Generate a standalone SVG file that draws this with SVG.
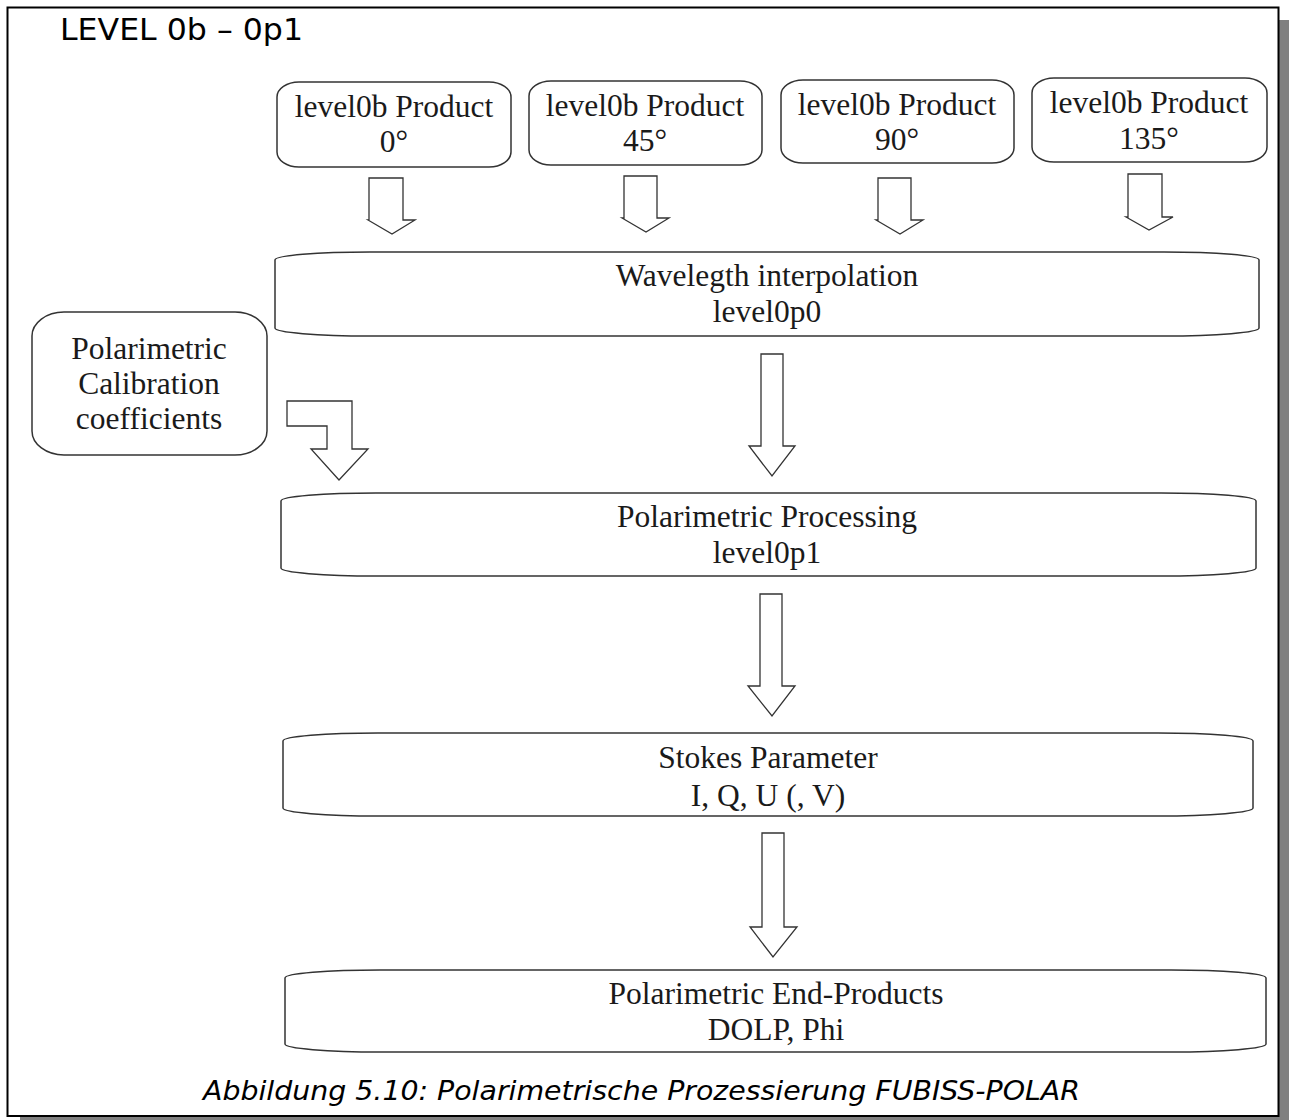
<svg xmlns="http://www.w3.org/2000/svg" width="1289" height="1120" viewBox="0 0 1289 1120">
  <style>
    .box { fill: #ffffff; stroke: #333333; stroke-width: 1.5; }
    .arrow { fill: #ffffff; stroke: #333333; stroke-width: 1.3; stroke-linejoin: miter; }
    .label { font-family: "Liberation Serif", "Times New Roman", serif; font-size: 31.5px; fill: #1a1a1a; text-anchor: middle; }
    .title { font-family: "DejaVu Sans", sans-serif; font-size: 30px; fill: #000000; }
    .caption { font-family: "DejaVu Sans", "Liberation Sans", sans-serif; font-size: 27px; font-style: italic; fill: #000000; }
  </style>

  <!-- page background, drop shadow and frame -->
  <rect x="0" y="0" width="1289" height="1120" fill="#ffffff"/>
  <rect x="1279" y="20" width="10" height="1100" fill="#808080"/>
  <rect x="20" y="1117" width="1269" height="3" fill="#808080"/>
  <rect x="7.5" y="7.5" width="1271" height="1108.5" fill="#ffffff" stroke="#000000" stroke-width="2"/>

  <text class="title" x="60" y="40" textLength="243" lengthAdjust="spacingAndGlyphs">LEVEL 0b – 0p1</text>

  <!-- input products -->
  <g id="product-0">
    <rect class="box" x="277" y="82" width="234" height="85" rx="22" ry="15"/>
    <text class="label" x="394" y="117">level0b Product</text>
    <text class="label" x="394" y="152">0°</text>
  </g>
  <g id="product-45">
    <rect class="box" x="529" y="81" width="233" height="84" rx="22" ry="15"/>
    <text class="label" x="645" y="116">level0b Product</text>
    <text class="label" x="645" y="151">45°</text>
  </g>
  <g id="product-90">
    <rect class="box" x="781" y="80" width="233" height="83" rx="22" ry="15"/>
    <text class="label" x="897" y="115">level0b Product</text>
    <text class="label" x="897" y="150">90°</text>
  </g>
  <g id="product-135">
    <rect class="box" x="1032" y="78" width="235" height="84" rx="22" ry="15"/>
    <text class="label" x="1149" y="113">level0b Product</text>
    <text class="label" x="1149" y="149">135°</text>
  </g>

  <!-- processing stages -->
  <g id="wavelength-interpolation">
    <rect class="box" x="275" y="252" width="984" height="84" rx="95" ry="8"/>
    <text class="label" x="767" y="286">Wavelegth interpolation</text>
    <text class="label" x="767" y="322">level0p0</text>
  </g>
  <g id="calibration-coefficients">
    <rect class="box" x="32" y="312" width="235" height="143" rx="32" ry="24"/>
    <text class="label" x="149" y="359">Polarimetric</text>
    <text class="label" x="149" y="394">Calibration</text>
    <text class="label" x="149" y="429">coefficients</text>
  </g>
  <g id="polarimetric-processing">
    <rect class="box" x="281" y="493" width="975" height="83" rx="95" ry="8"/>
    <text class="label" x="767" y="527">Polarimetric Processing</text>
    <text class="label" x="767" y="563">level0p1</text>
  </g>
  <g id="stokes-parameter">
    <rect class="box" x="283" y="733" width="970" height="83" rx="95" ry="8"/>
    <text class="label" x="768" y="768">Stokes Parameter</text>
    <text class="label" x="768" y="806">I, Q, U (, V)</text>
  </g>
  <g id="end-products">
    <rect class="box" x="285" y="970" width="981" height="82" rx="95" ry="8"/>
    <text class="label" x="776" y="1004">Polarimetric End-Products</text>
    <text class="label" x="776" y="1040">DOLP, Phi</text>
  </g>

  <!-- block arrows between stages -->
  <g id="connectors">
    <polygon class="arrow" points="369,178 403,178 403,220 415,220 392,234 368,220 369,220"/>
    <polygon class="arrow" points="624,176 657,176 657,218 669,218 646,232 622,218 624,218"/>
    <polygon class="arrow" points="878,178 911,178 911,220 923,220 900,234 876,220 878,220"/>
    <polygon class="arrow" points="1128,174 1162,174 1162,217 1173,217 1149,230 1126,217 1128,217"/>
    <polygon class="arrow" points="761,354 783,354 783,446 795,446 772,476 749,446 761,446"/>
    <polygon class="arrow" points="760,594 782,594 782,686 795,686 772,716 748,686 760,686"/>
    <polygon class="arrow" points="762,833 784,833 784,927 797,927 773,957 750,927 762,927"/>
    <polygon class="arrow" points="287,401 352,401 352,449 368,449 339,480 311,449 327,449 327,426 287,426"/>
  </g>

  <text class="caption" x="203" y="1100" textLength="877" lengthAdjust="spacingAndGlyphs">Abbildung 5.10: Polarimetrische Prozessierung FUBISS-POLAR</text>
</svg>
